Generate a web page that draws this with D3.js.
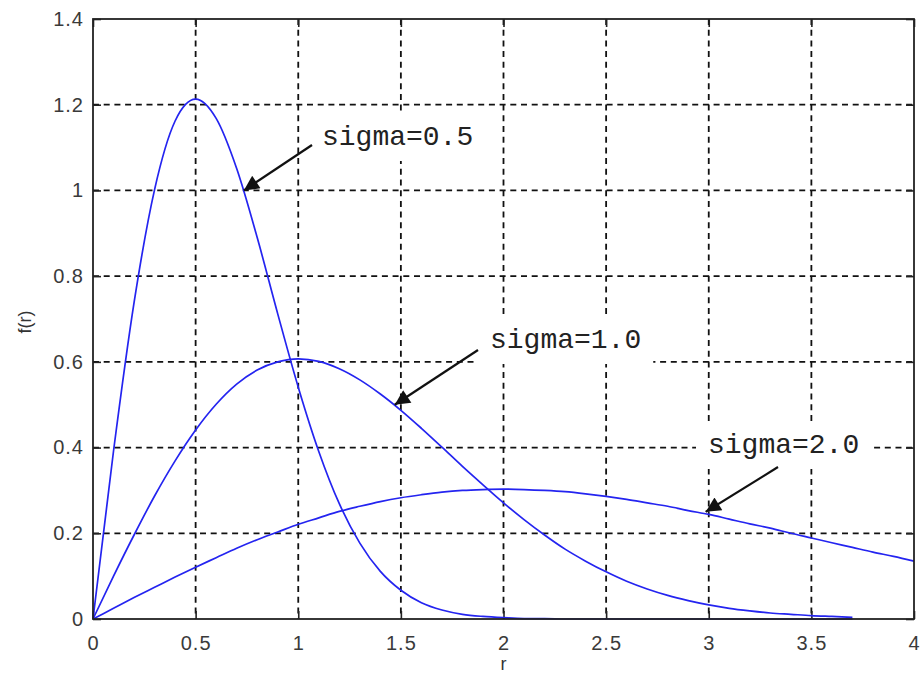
<!DOCTYPE html>
<html>
<head>
<meta charset="utf-8">
<script src="https://cdn.jsdelivr.net/npm/d3@7.9.0/dist/d3.min.js"></script>
<style>
  body { margin: 0; background: #fff; }
  svg { display: block; }
  .tick text { font-family: "Liberation Sans", Arial, sans-serif; font-size: 20px; fill: #3a3a3a; letter-spacing: 1px; }
  .note { font-family: "Liberation Mono", "Courier New", monospace; font-size: 28px; fill: #222; }
</style>
</head>
<body>
<svg width="921" height="676"></svg>
<script>
// r values (step 0.1)
const rValues = [0,0.1,0.2,0.3,0.4,0.5,0.6,0.7,0.8,0.9,1.0,1.1,1.2,1.3,1.4,1.5,1.6,1.7,1.8,1.9,2.0,
  2.1,2.2,2.3,2.4,2.5,2.6,2.7,2.8,2.9,3.0,3.1,3.2,3.3,3.4,3.5,3.6,3.7,3.8,3.9,4.0];

// f(r)
const sigma05 = [0,0.392,0.738,1.002,1.162,1.213,1.168,1.051,0.890,0.712,0.541,0.391,0.269,0.177,0.111,
  0.067,0.038,0.021,0.011,0.006,0.003,0.001,0.001,0,0,0,0,0,0,0,0,0,0,0,0,0,0,0];
const sigma10 = [0,0.100,0.196,0.287,0.369,0.441,0.501,0.548,0.581,0.600,0.607,0.601,0.584,0.558,0.525,
  0.487,0.445,0.401,0.356,0.313,0.271,0.232,0.196,0.163,0.135,0.110,0.088,0.070,0.055,0.043,0.033,
  0.025,0.019,0.014,0.011,0.008,0.006,0.004];
const sigma20 = [0,0.025,0.050,0.074,0.098,0.121,0.143,0.165,0.185,0.203,0.221,0.236,0.251,0.263,0.274,
  0.283,0.290,0.296,0.300,0.302,0.303,0.302,0.300,0.297,0.292,0.286,0.279,0.271,0.263,0.253,0.244,
  0.233,0.222,0.212,0.200,0.189,0.178,0.167,0.156,0.146,0.135];

const xTicks = [0,0.5,1,1.5,2,2.5,3,3.5,4];
const yTicks = [0,0.2,0.4,0.6,0.8,1,1.2,1.4];

// annotations: label, arrow tip (data), arrow tail and text position (pixels)
const notes = [
  { label: "sigma=0.5", tip: [0.735, 1.0],  tail: [312, 145], text: [322, 145] },
  { label: "sigma=1.0", tip: [1.47, 0.50],  tail: [478, 350], text: [490, 348] },
  { label: "sigma=2.0", tip: [2.985, 0.25], tail: [778, 467], text: [708, 453] }
];

const margin = { top: 19, right: 7, bottom: 57, left: 93 };
const svg = d3.select("svg");
const width = 921 - margin.left - margin.right;
const height = 676 - margin.top - margin.bottom;
const g = svg.append("g").attr("transform", `translate(${margin.left},${margin.top})`);

const x = d3.scaleLinear().domain([0, 4]).range([0, width]);
const y = d3.scaleLinear().domain([0, 1.4]).range([height, 0]);

// grid
g.append("g").selectAll("line").data(xTicks.slice(1, -1)).join("line")
  .attr("x1", d => x(d)).attr("x2", d => x(d)).attr("y1", 0).attr("y2", height)
  .attr("stroke", "#111").attr("stroke-width", 1.8).attr("stroke-dasharray", "6,4.7");
g.append("g").selectAll("line").data(yTicks.slice(1, -1)).join("line")
  .attr("y1", d => y(d)).attr("y2", d => y(d)).attr("x1", 0).attr("x2", width)
  .attr("stroke", "#111").attr("stroke-width", 1.8).attr("stroke-dasharray", "6,4.7");

// axes, ticks inward
g.append("g").attr("transform", `translate(0,${height})`)
  .call(d3.axisBottom(x).tickValues(xTicks).tickFormat(d3.format("")).tickSizeInner(-8).tickSizeOuter(0).tickPadding(17));
g.append("g")
  .call(d3.axisLeft(y).tickValues(yTicks).tickFormat(d3.format("")).tickSizeInner(-8).tickSizeOuter(0).tickPadding(9));
g.append("g")
  .call(d3.axisTop(x).tickValues(xTicks).tickFormat("").tickSizeInner(-8).tickSizeOuter(0));
g.append("g").attr("transform", `translate(${width},0)`)
  .call(d3.axisRight(y).tickValues(yTicks).tickFormat("").tickSizeInner(-8).tickSizeOuter(0));
g.selectAll(".domain").remove();
g.selectAll(".tick line").attr("stroke", "#222").attr("stroke-width", 1.6);

// curves
const line = d3.line().x((d, i) => x(rValues[i])).y(d => y(d)).curve(d3.curveMonotoneX);
[sigma05, sigma10, sigma20].forEach(s => {
  g.append("path").datum(s).attr("d", line)
    .attr("fill", "none").attr("stroke", "#2424f0").attr("stroke-width", 1.7);
});

// frame
g.append("rect").attr("width", width).attr("height", height)
  .attr("fill", "none").attr("stroke", "#222").attr("stroke-width", 1.8);

// annotations
svg.append("defs").append("marker").attr("id", "arrow")
  .attr("viewBox", "0 0 10 10").attr("refX", 10).attr("refY", 5)
  .attr("markerWidth", 20).attr("markerHeight", 15).attr("markerUnits", "userSpaceOnUse")
  .attr("orient", "auto")
  .append("path").attr("d", "M0,0L10,5L0,10z").attr("fill", "#111");

notes.forEach(n => {
  const t = svg.append("text").attr("class", "note")
    .attr("x", n.text[0]).attr("y", n.text[1]).text(n.label);
  const bb = t.node().getBBox();
  svg.insert("rect", "text.note")
    .attr("x", bb.x - 12).attr("y", n.text[1] - 30)
    .attr("width", bb.width + 24).attr("height", 46).attr("fill", "#fff");
  svg.append("line")
    .attr("x1", n.tail[0]).attr("y1", n.tail[1])
    .attr("x2", margin.left + x(n.tip[0])).attr("y2", margin.top + y(n.tip[1]))
    .attr("stroke", "#111").attr("stroke-width", 2.2).attr("marker-end", "url(#arrow)");
});

// axis labels
svg.append("text").attr("x", margin.left + x(2)).attr("y", 670)
  .attr("text-anchor", "middle").attr("font-family", "Liberation Sans, Arial, sans-serif")
  .attr("font-size", 18).attr("fill", "#333").text("r");
svg.append("text").attr("transform", "translate(31,322) rotate(-90)")
  .attr("text-anchor", "middle").attr("font-family", "Liberation Sans, Arial, sans-serif")
  .attr("font-size", 18).attr("fill", "#333").text("f(r)");
</script>
</body>
</html>
